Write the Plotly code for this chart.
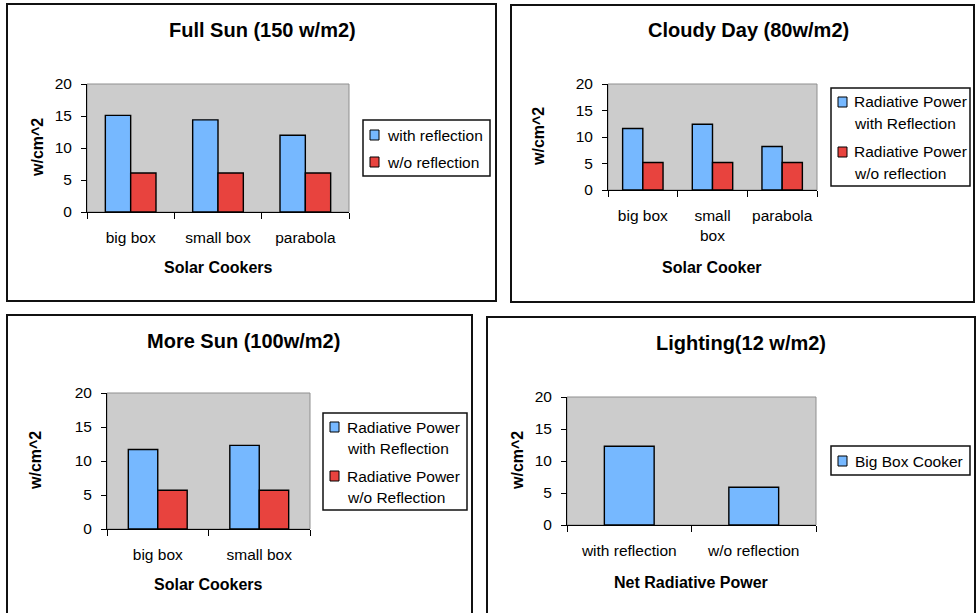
import plotly.graph_objects as go

W, H = 976, 613

# ---------------- data ----------------
cookers3 = ["big box", "small box", "parabola"]
cookers3_cloudy = ["big box", "small<br>box", "parabola"]
cookers2 = ["big box", "small box"]
lighting_cats = ["with reflection", "w/o reflection"]

full_with = [15.1, 14.4, 12.0]
full_without = [6.1, 6.1, 6.1]
cloudy_with = [11.6, 12.4, 8.2]
cloudy_without = [5.2, 5.2, 5.2]
more_with = [11.7, 12.3]
more_without = [5.7, 5.7]
light_vals = [12.3, 5.9]

full_names = [["with reflection"], ["w/o reflection"]]
cloudy_names = [["Radiative Power", "with Reflection"], ["Radiative Power", "w/o reflection"]]
more_names = [["Radiative Power", "with Reflection"], ["Radiative Power", "w/o Reflection"]]
light_names = [["Big Box Cooker"]]

titles = ["Full Sun (150 w/m2)", "Cloudy Day (80w/m2)", "More Sun (100w/m2)", "Lighting(12 w/m2)"]
x_titles = ["Solar Cookers", "Solar Cooker", "Solar Cookers", "Net Radiative Power"]
y_title = "w/cm^2"
y_ticks = [0, 5, 10, 15, 20]

BLUE = "#76B8FF"
RED = "#E8433E"
GRAY = "#CCCCCC"
FONT = "Liberation Sans, Arial, sans-serif"
TICK_SIZE = 15.5
LEG_SIZE = 15.5


def px(x):
    return x / W


def py(y):
    return 1 - y / H


# plot areas in pixels: (x0, x1, ytop, ybottom)
plots = [(87, 349, 84, 212), (608, 817, 84, 190), (107, 310, 393, 529), (567, 816, 397, 525)]
# panel borders in pixels
panels = [(7, 496, 4, 301), (511, 974, 5, 302), (7, 472, 315, 640), (487, 975, 317, 640)]
title_pos = [(262, 30), (748, 30), (243, 341), (741, 343)]
xtitle_pos = [(218, 268), (712, 268), (208, 584), (691, 582)]
ytitle_pos = [(37, 148), (538, 137), (35, 461), (517, 461)]

BAR_LINE = dict(color="black", width=1.4)

fig = go.Figure()

# panel 1
fig.add_trace(go.Bar(x=cookers3, y=full_with, name=full_names[0][0], marker=dict(color=BLUE, line=BAR_LINE), xaxis="x", yaxis="y", showlegend=False))
fig.add_trace(go.Bar(x=cookers3, y=full_without, name=full_names[1][0], marker=dict(color=RED, line=BAR_LINE), xaxis="x", yaxis="y", showlegend=False))
# panel 2
fig.add_trace(go.Bar(x=cookers3_cloudy, y=cloudy_with, name=" ".join(cloudy_names[0]), marker=dict(color=BLUE, line=BAR_LINE), xaxis="x2", yaxis="y2", showlegend=False))
fig.add_trace(go.Bar(x=cookers3_cloudy, y=cloudy_without, name=" ".join(cloudy_names[1]), marker=dict(color=RED, line=BAR_LINE), xaxis="x2", yaxis="y2", showlegend=False))
# panel 3
fig.add_trace(go.Bar(x=cookers2, y=more_with, name=" ".join(more_names[0]), marker=dict(color=BLUE, line=BAR_LINE), xaxis="x3", yaxis="y3", showlegend=False))
fig.add_trace(go.Bar(x=cookers2, y=more_without, name=" ".join(more_names[1]), marker=dict(color=RED, line=BAR_LINE), xaxis="x3", yaxis="y3", showlegend=False))
# panel 4
fig.add_trace(go.Bar(x=lighting_cats, y=light_vals, name=light_names[0][0], width=0.4, marker=dict(color=BLUE, line=BAR_LINE), xaxis="x4", yaxis="y4", showlegend=False))

layout = dict(
    width=W, height=H, autosize=False, margin=dict(l=0, r=0, t=0, b=0, autoexpand=False),
    paper_bgcolor="white", plot_bgcolor=GRAY,
    barmode="group", bargap=0.42, bargroupgap=0,
    font=dict(family=FONT, size=15, color="black"),
    showlegend=False,
)

shapes = []
annotations = []

for i, (x0, x1, yt, yb) in enumerate(plots):
    sfx = "" if i == 0 else str(i + 1)
    layout["xaxis" + sfx] = dict(
        domain=[px(x0), px(x1)], anchor="y" + sfx, type="category",
        showline=True, linecolor="black", linewidth=1,
        ticks="outside", tickson="boundaries", ticklen=6, tickcolor="black",
        ticklabelstandoff=11, tickfont=dict(size=TICK_SIZE, family=FONT), tickangle=0,
        automargin=False, showgrid=False, zeroline=False, fixedrange=True,
    )
    layout["yaxis" + sfx] = dict(
        domain=[py(yb), py(yt)], anchor="x" + sfx, range=[0, 20],
        tickmode="array", tickvals=y_ticks,
        showline=True, linecolor="black", linewidth=1,
        ticks="outside", ticklen=5, tickcolor="black",
        ticklabelstandoff=6, tickfont=dict(size=TICK_SIZE, family=FONT),
        automargin=False, showgrid=False, zeroline=False, fixedrange=True,
    )
    # gray plot-area frame
    shapes.append(dict(type="rect", xref="x" + sfx + " domain", yref="y" + sfx + " domain",
                       x0=0, x1=1, y0=0, y1=1, line=dict(color="#8F8F8F", width=1), layer="below"))
    # panel border
    bx0, bx1, by0, by1 = panels[i]
    shapes.append(dict(type="rect", xref="paper", yref="paper", x0=px(bx0), x1=px(bx1),
                       y0=py(by1), y1=py(by0), line=dict(color="#111111", width=2)))
    # titles
    tx, ty = title_pos[i]
    annotations.append(dict(text="<b>" + titles[i] + "</b>", x=px(tx), y=py(ty), xref="paper", yref="paper",
                            showarrow=False, xanchor="center", yanchor="middle", font=dict(size=20, family=FONT)))
    ax, ay = xtitle_pos[i]
    annotations.append(dict(text="<b>" + x_titles[i] + "</b>", x=px(ax), y=py(ay), xref="paper", yref="paper",
                            showarrow=False, xanchor="center", yanchor="middle", font=dict(size=16, family=FONT)))
    yx, yy = ytitle_pos[i]
    annotations.append(dict(text="<b>" + y_title + "</b>", x=px(yx), y=py(yy), xref="paper", yref="paper",
                            showarrow=False, xanchor="center", yanchor="middle", textangle=-90,
                            font=dict(size=16, family=FONT)))

# ---------------- legends (drawn as boxes + swatches + text) ----------------
# box (x0, x1, y0, y1), swatch x0, text x, item first-line centers
legends = [
    ((363, 490, 120, 176), 370, 385, [135, 162], full_names, [BLUE, RED]),
    ((831, 970, 88, 186), 838, 852, [102, 152], cloudy_names, [BLUE, RED]),
    ((323, 467, 413, 510), 330, 345, [427, 476], more_names, [BLUE, RED]),
    ((831, 970, 446, 475), 838, 853, [461], light_names, [BLUE]),
]
LINE_H = 21
for (bx0, bx1, by0, by1), sx, tx, centers, names, colors in legends:
    shapes.append(dict(type="rect", xref="paper", yref="paper", x0=px(bx0), x1=px(bx1),
                       y0=py(by1), y1=py(by0), line=dict(color="#111111", width=1.5), fillcolor="white"))
    for cy, lines, col in zip(centers, names, colors):
        shapes.append(dict(type="rect", xref="paper", yref="paper", x0=px(sx), x1=px(sx + 9),
                           y0=py(cy + 5), y1=py(cy - 5), line=dict(color="black", width=1), fillcolor=col))
        for k, line in enumerate(lines):
            annotations.append(dict(text=line, x=px(tx), y=py(cy + k * LINE_H), xref="paper", yref="paper",
                                    showarrow=False, xanchor="left", yanchor="middle",
                                    font=dict(size=LEG_SIZE, family=FONT)))

layout["shapes"] = shapes
layout["annotations"] = annotations
fig.update_layout(**layout)

fig.write_html("out.html")
